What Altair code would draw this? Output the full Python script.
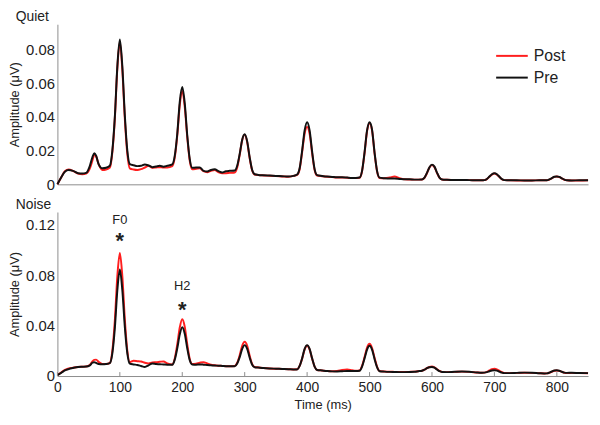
import altair as alt
import pandas as pd

# ---------------- data ----------------
time_ms = [0, 6, 12, 18, 25, 33, 40, 46, 52, 56, 59, 62, 66, 72, 78,
           84, 88, 92, 96, 100, 104, 108, 112, 116,
           122, 128, 134, 140, 146, 152, 158, 164, 170, 176,
           184, 188, 192, 196, 200, 204, 208, 212, 216,
           222, 228, 234, 240, 246, 252, 258, 264, 270, 276,
           284, 288, 292, 296, 300, 304, 308, 312, 316,
           322, 330, 340, 350, 360, 370, 378,
           384, 388, 392, 396, 400, 404, 408, 412, 416,
           424, 432, 440, 448, 456, 464, 472, 478,
           484, 488, 492, 496, 500, 504, 508, 512, 516,
           524, 532, 540, 548, 556, 564, 572, 578,
           584, 588, 592, 596, 600, 604, 608, 612, 616,
           624, 636, 648, 660, 672, 680,
           684, 688, 692, 696, 700, 704, 708, 712, 716,
           724, 736, 748, 760, 772, 780,
           784, 788, 792, 796, 800, 804, 808, 812, 816,
           824, 836, 850]

quiet_pre = [0.0000, 0.0040, 0.0075, 0.0085, 0.0080, 0.0066, 0.0064, 0.0068, 0.0110, 0.0160, 0.0185, 0.0170, 0.0120, 0.0095, 0.0098,
             0.0110, 0.0200, 0.0400, 0.0700, 0.0860, 0.0700, 0.0410, 0.0200, 0.0120,
             0.0113, 0.0108, 0.0110, 0.0118, 0.0112, 0.0102, 0.0106, 0.0110, 0.0105, 0.0110,
             0.0118, 0.0170, 0.0300, 0.0490, 0.0577, 0.0480, 0.0290, 0.0150, 0.0098,
             0.0100, 0.0100, 0.0080, 0.0076, 0.0085, 0.0089, 0.0078, 0.0070, 0.0078, 0.0080,
             0.0082, 0.0110, 0.0180, 0.0265, 0.0297, 0.0255, 0.0160, 0.0085, 0.0060,
             0.0056, 0.0054, 0.0052, 0.0050, 0.0048, 0.0046, 0.0050,
             0.0058, 0.0095, 0.0200, 0.0320, 0.0369, 0.0320, 0.0195, 0.0090, 0.0055,
             0.0050, 0.0046, 0.0044, 0.0042, 0.0042, 0.0040, 0.0038, 0.0038,
             0.0040, 0.0080, 0.0190, 0.0320, 0.0369, 0.0325, 0.0190, 0.0080, 0.0040,
             0.0036, 0.0034, 0.0034, 0.0032, 0.0030, 0.0030, 0.0028, 0.0028,
             0.0029, 0.0040, 0.0068, 0.0102, 0.0117, 0.0105, 0.0070, 0.0040, 0.0029,
             0.0027, 0.0026, 0.0026, 0.0025, 0.0024, 0.0024,
             0.0025, 0.0032, 0.0046, 0.0060, 0.0066, 0.0060, 0.0045, 0.0031, 0.0025,
             0.0024, 0.0024, 0.0023, 0.0023, 0.0024, 0.0024,
             0.0024, 0.0029, 0.0037, 0.0045, 0.0047, 0.0044, 0.0036, 0.0028, 0.0024,
             0.0023, 0.0024, 0.0024]

quiet_post = [0.0000, 0.0040, 0.0078, 0.0088, 0.0080, 0.0064, 0.0060, 0.0064, 0.0095, 0.0140, 0.0175, 0.0165, 0.0120, 0.0085, 0.0088,
              0.0100, 0.0190, 0.0390, 0.0690, 0.0845, 0.0680, 0.0390, 0.0180, 0.0095,
              0.0088, 0.0085, 0.0090, 0.0100, 0.0110, 0.0098, 0.0100, 0.0102, 0.0100, 0.0100,
              0.0108, 0.0160, 0.0290, 0.0470, 0.0554, 0.0460, 0.0280, 0.0140, 0.0090,
              0.0092, 0.0095, 0.0078, 0.0072, 0.0080, 0.0085, 0.0072, 0.0065, 0.0066, 0.0068,
              0.0070, 0.0100, 0.0175, 0.0262, 0.0295, 0.0250, 0.0155, 0.0082, 0.0058,
              0.0055, 0.0053, 0.0051, 0.0049, 0.0047, 0.0045, 0.0050,
              0.0056, 0.0090, 0.0190, 0.0300, 0.0340, 0.0300, 0.0185, 0.0085, 0.0052,
              0.0048, 0.0045, 0.0043, 0.0041, 0.0041, 0.0039, 0.0037, 0.0037,
              0.0039, 0.0078, 0.0185, 0.0315, 0.0362, 0.0320, 0.0185, 0.0078, 0.0038,
              0.0036, 0.0040, 0.0046, 0.0036, 0.0030, 0.0029, 0.0028, 0.0028,
              0.0029, 0.0039, 0.0066, 0.0100, 0.0114, 0.0102, 0.0068, 0.0039, 0.0029,
              0.0027, 0.0026, 0.0025, 0.0025, 0.0024, 0.0024,
              0.0025, 0.0031, 0.0045, 0.0058, 0.0064, 0.0058, 0.0044, 0.0030, 0.0025,
              0.0024, 0.0023, 0.0023, 0.0023, 0.0024, 0.0024,
              0.0024, 0.0028, 0.0036, 0.0044, 0.0046, 0.0043, 0.0035, 0.0027, 0.0024,
              0.0023, 0.0023, 0.0024]

noise_pre = [0.0008, 0.0025, 0.0044, 0.0055, 0.0064, 0.0072, 0.0074, 0.0075, 0.0085, 0.0105, 0.0110, 0.0104, 0.0095, 0.0093, 0.0095,
             0.0102, 0.0180, 0.0380, 0.0680, 0.0844, 0.0680, 0.0390, 0.0180, 0.0098,
             0.0092, 0.0088, 0.0080, 0.0072, 0.0085, 0.0100, 0.0096, 0.0093, 0.0092, 0.0090,
             0.0090, 0.0130, 0.0220, 0.0330, 0.0387, 0.0335, 0.0220, 0.0125, 0.0092,
             0.0090, 0.0092, 0.0090, 0.0087, 0.0085, 0.0083, 0.0082, 0.0080, 0.0078, 0.0077,
             0.0078, 0.0100, 0.0150, 0.0215, 0.0245, 0.0215, 0.0145, 0.0090, 0.0070,
             0.0067, 0.0063, 0.0060, 0.0058, 0.0056, 0.0054, 0.0052,
             0.0052, 0.0080, 0.0140, 0.0215, 0.0245, 0.0215, 0.0140, 0.0075, 0.0048,
             0.0044, 0.0040, 0.0037, 0.0036, 0.0038, 0.0040, 0.0040, 0.0040,
             0.0042, 0.0075, 0.0140, 0.0210, 0.0240, 0.0210, 0.0135, 0.0070, 0.0038,
             0.0035, 0.0033, 0.0032, 0.0031, 0.0031, 0.0032, 0.0034, 0.0038,
             0.0042, 0.0050, 0.0062, 0.0070, 0.0072, 0.0066, 0.0052, 0.0038, 0.0032,
             0.0031, 0.0034, 0.0036, 0.0034, 0.0028, 0.0026,
             0.0027, 0.0031, 0.0038, 0.0044, 0.0046, 0.0043, 0.0035, 0.0027, 0.0023,
             0.0023, 0.0025, 0.0027, 0.0026, 0.0022, 0.0020,
             0.0021, 0.0027, 0.0036, 0.0044, 0.0046, 0.0042, 0.0034, 0.0027, 0.0025,
             0.0026, 0.0024, 0.0023]

noise_post = [0.0008, 0.0028, 0.0048, 0.0060, 0.0066, 0.0072, 0.0074, 0.0076, 0.0088, 0.0115, 0.0128, 0.0130, 0.0112, 0.0095, 0.0096,
              0.0105, 0.0200, 0.0440, 0.0790, 0.0975, 0.0790, 0.0450, 0.0200, 0.0110,
              0.0121, 0.0118, 0.0115, 0.0105, 0.0100, 0.0108, 0.0110, 0.0113, 0.0116, 0.0100,
              0.0092, 0.0140, 0.0250, 0.0385, 0.0450, 0.0390, 0.0250, 0.0135, 0.0095,
              0.0098, 0.0105, 0.0110, 0.0100, 0.0090, 0.0085, 0.0082, 0.0080, 0.0078, 0.0077,
              0.0080, 0.0105, 0.0165, 0.0240, 0.0271, 0.0240, 0.0160, 0.0095, 0.0072,
              0.0068, 0.0064, 0.0060, 0.0058, 0.0056, 0.0054, 0.0052,
              0.0053, 0.0080, 0.0138, 0.0210, 0.0240, 0.0210, 0.0138, 0.0075, 0.0048,
              0.0044, 0.0040, 0.0038, 0.0040, 0.0048, 0.0052, 0.0046, 0.0042,
              0.0044, 0.0080, 0.0150, 0.0225, 0.0255, 0.0222, 0.0145, 0.0075, 0.0040,
              0.0036, 0.0034, 0.0033, 0.0032, 0.0032, 0.0033, 0.0035, 0.0038,
              0.0042, 0.0050, 0.0063, 0.0072, 0.0075, 0.0068, 0.0054, 0.0040, 0.0033,
              0.0031, 0.0033, 0.0035, 0.0033, 0.0028, 0.0026,
              0.0027, 0.0033, 0.0044, 0.0054, 0.0057, 0.0053, 0.0042, 0.0030, 0.0024,
              0.0023, 0.0025, 0.0026, 0.0025, 0.0022, 0.0020,
              0.0021, 0.0026, 0.0034, 0.0042, 0.0044, 0.0041, 0.0033, 0.0026, 0.0024,
              0.0025, 0.0023, 0.0022]

series = ["Post", "Pre"]
series_colors = ["#ff1e1e", "#111111"]
panel_titles = ["Quiet", "Noise"]
x_ticks = [0, 100, 200, 300, 400, 500, 600, 700, 800]
quiet_y_ticks = [0, 0.02, 0.04, 0.06, 0.08]
noise_y_ticks = [0, 0.04, 0.08, 0.12]
ann_labels = ["F0", "H2"]
ann_time = [100, 200]
ann_label_y = [0.124, 0.071]
ann_star_y = [0.111, 0.0565]

# ---------------- layout / style ----------------
FONT = "Liberation Sans, Arial, sans-serif"
TXT = "#222222"
W = 537
H1 = 162
H2 = 166


def long_df(post, pre):
    rows = []
    for name, vals in zip(series, [post, pre]):
        for t, v in zip(time_ms, vals):
            rows.append({"t": t, "v": v, "s": name})
    return pd.DataFrame(rows)


color_enc = alt.Color("s:N", scale=alt.Scale(domain=series, range=series_colors), legend=None)
x_scale = alt.Scale(domain=[0, 850], nice=False)

top_x_axis = alt.Axis(labels=False, ticks=False, title=None, domain=True)
bottom_x_axis = alt.Axis(values=x_ticks, title="Time (ms)", labelFlush=False,
                         labelPadding=5, titlePadding=4, labelFontSize=14, titleFontSize=13)


def y_axis(vals):
    return alt.Axis(values=vals, title="Amplitude (μV)",
                    labelExpr="datum.value == 0 ? '0' : format(datum.value, '.2f')",
                    labelPadding=3, titlePadding=4)


# ---------- top panel (Quiet) ----------
qx = alt.X("t:Q", scale=x_scale, axis=top_x_axis)
qy = alt.Y("v:Q", scale=alt.Scale(domain=[0, 0.095], nice=False), axis=y_axis(quiet_y_ticks))

quiet_lines = alt.Chart(long_df(quiet_post, quiet_pre)).mark_line(
    strokeWidth=2, interpolate="monotone").encode(x=qx, y=qy, color=color_enc, detail="s:N")

legend_layers = []
for i, (name, col) in enumerate(zip(series, series_colors)):
    ypix = 32 + 22 * i
    d = pd.DataFrame({"s": [name]})
    legend_layers.append(alt.Chart(d).mark_rule(strokeWidth=2, color=col).encode(
        x=alt.value(444), x2=alt.value(476), y=alt.value(ypix)))
    legend_layers.append(alt.Chart(d).mark_text(
        align="left", baseline="middle", font=FONT, fontSize=16, color=TXT).encode(
        x=alt.value(482), y=alt.value(ypix), text="s:N"))

top = alt.layer(quiet_lines, *legend_layers).properties(
    width=W, height=H1,
    title=alt.TitleParams(panel_titles[0], anchor="start", fontSize=14, fontWeight="normal",
                          font=FONT, color=TXT, dx=7, offset=0))

# ---------- bottom panel (Noise) ----------
nx = alt.X("t:Q", scale=x_scale, axis=bottom_x_axis)
ny = alt.Y("v:Q", scale=alt.Scale(domain=[0, 0.13], nice=False), axis=y_axis(noise_y_ticks))

noise_lines = alt.Chart(long_df(noise_post, noise_pre)).mark_line(
    strokeWidth=2, interpolate="monotone").encode(x=nx, y=ny, color=color_enc, detail="s:N")

tick_marks = alt.Chart(pd.DataFrame({"t": x_ticks})).mark_rule(color="#8c8c8c", strokeWidth=1).encode(
    x=nx, y=alt.value(H2), y2=alt.value(H2 - 4))

ann_df = pd.DataFrame({"t": ann_time, "v": ann_label_y, "label": ann_labels})
star_df = pd.DataFrame({"t": ann_time, "v": ann_star_y, "label": ["*", "*"]})

ann_text = alt.Chart(ann_df).mark_text(
    font=FONT, fontSize=13, color=TXT, baseline="middle").encode(x=nx, y=ny, text="label:N")
ann_star = alt.Chart(star_df).mark_text(
    font=FONT, fontSize=22, fontWeight="bold", color=TXT, baseline="middle", dy=5).encode(
    x=nx, y=ny, text="label:N")

bottom = alt.layer(noise_lines, tick_marks, ann_text, ann_star).properties(
    width=W, height=H2,
    title=alt.TitleParams(panel_titles[1], anchor="start", fontSize=14, fontWeight="normal",
                          font=FONT, color=TXT, dx=7, offset=0))

chart = alt.vconcat(top, bottom, spacing=6).properties(
    padding={"left": 0, "top": 0, "right": 0, "bottom": 2}
).configure_view(strokeWidth=0).configure_axis(
    labelFont=FONT, titleFont=FONT, labelColor=TXT, titleColor=TXT,
    domainColor="#8c8c8c", domainWidth=1, grid=False, ticks=False,
    labelFontSize=15, titleFontSize=13, titleFontWeight="normal"
).configure_title(font=FONT)

chart.save("out.html", embed_options={"renderer": "svg", "actions": False})
